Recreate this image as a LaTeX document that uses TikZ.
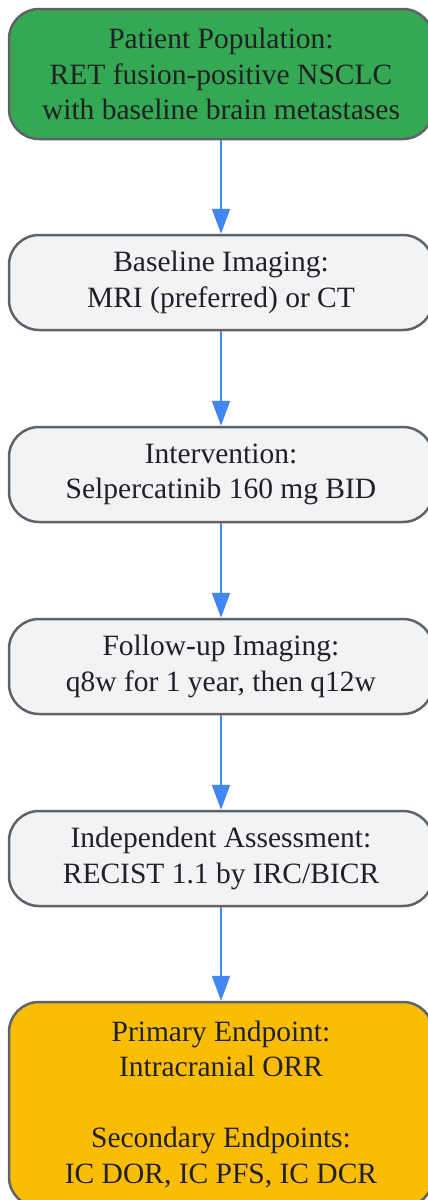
\documentclass[tikz,border=0pt]{standalone}
\usepackage{fontspec}
\setmainfont{Liberation Serif}
\usetikzlibrary{arrows.meta}
\definecolor{stepgray}{HTML}{F1F3F4}
\definecolor{edgegray}{HTML}{5F6368}
\definecolor{popgreen}{HTML}{34A853}
\definecolor{endyellow}{HTML}{FBBC04}
\definecolor{flowblue}{HTML}{4285F4}
\definecolor{txt}{HTML}{202124}
\tikzset{
  box/.style={draw=edgegray, line width=2.5pt, rounded corners=30pt, fill=stepgray,
    minimum width=424pt, inner sep=0pt, align=center, text=txt,
    font=\fontsize{29.5}{35.5}\selectfont},
  flow/.style={draw=flowblue, line width=2pt, -{Triangle[length=25pt,width=18pt]}}
}
\begin{document}
\begin{tikzpicture}[x=1pt,y=1pt]
\useasboundingbox (0,0) rectangle (428,-1200);
\node [box, fill=popgreen, minimum height=130pt] (pop) at (221,-74) {Patient Population:\\RET fusion-positive NSCLC\\with baseline brain metastases};
\node [box, minimum height=95pt] (base) at (221,-282.5) {Baseline Imaging:\\MRI (preferred) or CT};
\node [box, minimum height=95pt] (interv) at (221,-474.5) {Intervention:\\Selpercatinib 160 mg BID};
\node [box, minimum height=95pt] (follow) at (221,-666.5) {Follow-up Imaging:\\q8w for 1 year, then q12w};
\node [box, minimum height=95pt] (assess) at (221,-858.5) {Independent Assessment:\\RECIST 1.1 by IRC/BICR};
\node [box, fill=endyellow, minimum height=205pt] (endp) at (221,-1104.5) {Primary Endpoint:\\Intracranial ORR\\[35.5pt]Secondary Endpoints:\\IC DOR, IC PFS, IC DCR};

\draw [flow] (pop) -- (base);
\draw [flow] (base) -- (interv);
\draw [flow] (interv) -- (follow);
\draw [flow] (follow) -- (assess);
\draw [flow] (assess) -- (endp);
\end{tikzpicture}
\end{document}
